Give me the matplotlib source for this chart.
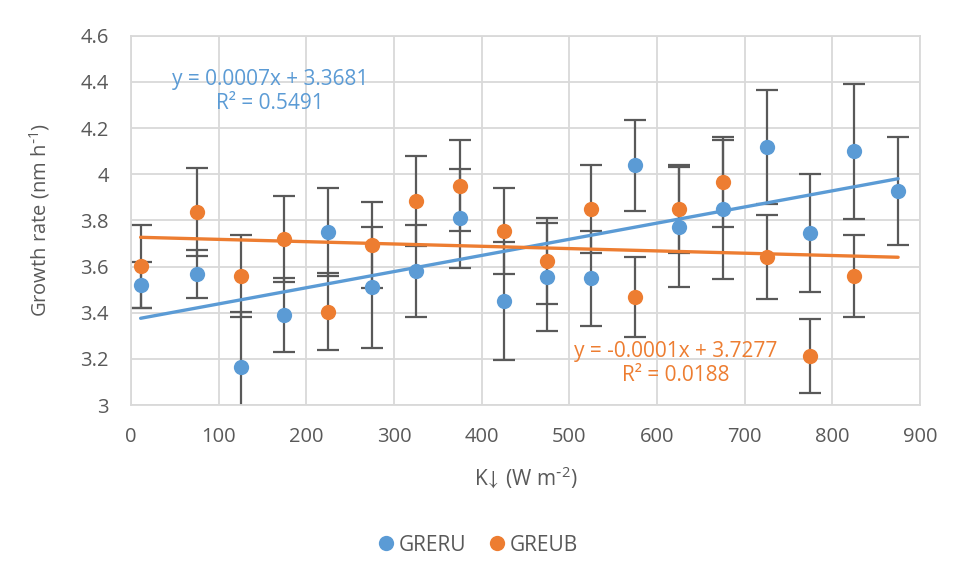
import matplotlib.pyplot as plt
import numpy as np
from matplotlib.ticker import FormatStrFormatter, MultipleLocator

plt.rcParams['font.family'] = ['Open Sans', 'DejaVu Sans']
plt.rcParams['mathtext.default'] = 'regular'

# mean growth rate per irradiance bin, with error half-widths
k_down = [11, 75, 125, 175, 225, 275, 325, 375, 425, 475, 525, 575, 625, 675, 725, 775, 825, 875]

greru = [3.520, 3.567, 3.166, 3.390, 3.749, 3.510, 3.580, 3.809, 3.450, 3.555,
         3.549, 4.038, 3.771, 3.848, 4.119, 3.745, 4.100, 3.927]
greru_err = [0.100, 0.105, 0.235, 0.162, 0.192, 0.262, 0.198, 0.214, 0.257, 0.233,
             0.206, 0.196, 0.259, 0.301, 0.247, 0.257, 0.293, 0.233]

greub = [3.602, 3.836, 3.560, 3.719, 3.404, 3.692, 3.885, 3.950, 3.754, 3.624,
         3.850, 3.469, 3.850, 3.967, 3.641, 3.211, 3.560]
greub_err = [0.180, 0.190, 0.177, 0.186, 0.166, 0.186, 0.195, 0.197, 0.186, 0.185,
             0.191, 0.174, 0.191, 0.194, 0.182, 0.160, 0.178]

# linear trendlines (slope, intercept, R^2)
greru_fit = (0.0007, 3.3681, 0.5491)
greub_fit = (-0.0001, 3.7277, 0.0188)
fit_range = [11, 875]

BLUE = '#5B9BD5'
ORANGE = '#ED7D31'
GRAY = '#595959'
GRID = '#D9D9D9'

fig = plt.figure(figsize=(9.54, 5.8), dpi=100)
ax = fig.add_axes([0.1373, 0.3017, 0.8271, 0.6367])

series = [
    ('GRERU', k_down, greru, greru_err, greru_fit, BLUE),
    ('GREUB', k_down[:len(greub)], greub, greub_err, greub_fit, ORANGE),
]

for name, xs, ys, err, fit, color in series:
    ax.errorbar(xs, ys, yerr=err, fmt='none', ecolor=GRAY, elinewidth=1.6,
                capsize=8, capthick=1.6, zorder=2)

for name, xs, ys, err, fit, color in series:
    fx = np.array(fit_range)
    ax.plot(fx, fit[0] * fx + fit[1], color=color, lw=2.4, zorder=3,
            solid_capstyle='round')

for name, xs, ys, err, fit, color in series:
    ax.plot(xs, ys, 'o', color=color, ms=11, mec='none', zorder=4, label=name)

ax.text(158.5, 4.358, f'y = {greru_fit[0]:.4f}x + {greru_fit[1]:.4f}\nR² = {greru_fit[2]:.4f}',
        color=BLUE, fontsize=15, ha='center', va='center', linespacing=1.15)
ax.text(621.6, 3.180, f'y = {greub_fit[0]:.4f}x + {greub_fit[1]:.4f}\nR² = {greub_fit[2]:.4f}',
        color=ORANGE, fontsize=15, ha='center', va='center', linespacing=1.15)

ax.set_xlim(0, 900)
ax.set_ylim(3, 4.6)
ax.xaxis.set_major_locator(MultipleLocator(100))
ax.yaxis.set_major_locator(MultipleLocator(0.2))
ax.yaxis.set_major_formatter(FormatStrFormatter('%g'))
ax.grid(True, color=GRID, lw=1.3, zorder=0)
ax.set_axisbelow(True)
for s in ax.spines.values():
    s.set_color(GRID)
    s.set_linewidth(1.3)
ax.tick_params(length=0, labelsize=14.5, labelcolor=GRAY)
ax.tick_params(axis='x', pad=16)
ax.tick_params(axis='y', pad=16)

ax.set_xlabel('K$\\!\\downarrow\\,$(W m$^{\\text{-}2}$)', fontsize=15, color=GRAY, labelpad=12)
ax.set_ylabel('Growth rate (nm h$^{\\text{-}1}$)', fontsize=14.5, color=GRAY, labelpad=20)

fig.legend(loc='center', bbox_to_anchor=(0.5, 0.06), ncol=2, frameon=False,
           fontsize=15, labelcolor=GRAY, handletextpad=0.1, columnspacing=1.0,
           markerscale=1.0, handlelength=1.0)

fig.savefig('out.png', dpi=100)
